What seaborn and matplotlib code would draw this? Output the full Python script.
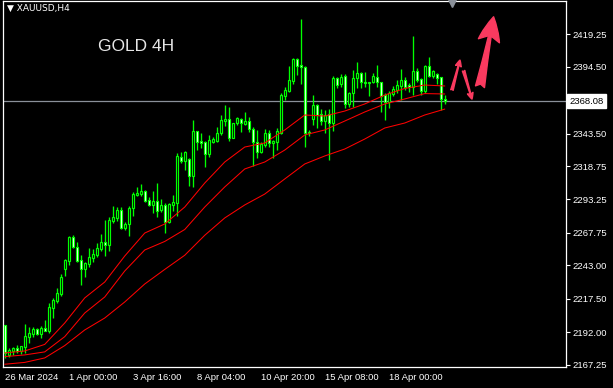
import numpy as np
import pandas as pd
import matplotlib
matplotlib.use("Agg")
import matplotlib.pyplot as plt
import seaborn as sns

# ---------------- data (XAUUSD H4 candles) ----------------
opens = [2197.7, 2174.9, 2178.1, 2180.0, 2177.9, 2181.2, 2188.8, 2190.9, 2194.7, 2190.9,
         2195.2, 2193.4, 2210.9, 2216.2, 2221.3, 2240.1, 2246.7, 2264.5, 2257.3, 2247.0,
         2240.1, 2244.1, 2248.9, 2251.0, 2255.8, 2260.9, 2258.8, 2277.1, 2279.4, 2285.3,
         2271.3, 2274.4, 2286.5, 2296.9, 2297.4, 2299.7, 2292.9, 2289.1, 2292.1, 2285.3,
         2289.1, 2276.3, 2289.1, 2290.8, 2325.8, 2322.8, 2323.9, 2311.4, 2345.2, 2337.8,
         2337.2, 2327.7, 2337.2, 2338.0, 2343.6, 2353.2, 2354.3, 2340.3, 2351.3, 2354.5,
         2350.7, 2353.0, 2346.7, 2336.8, 2329.6, 2334.7, 2343.6, 2336.0, 2337.2, 2344.1,
         2372.3, 2376.1, 2383.5, 2400.0, 2395.6, 2393.9, 2343.6, 2354.3, 2365.2, 2358.3,
         2353.0, 2358.1, 2351.3, 2385.5, 2381.2, 2387.3, 2365.9, 2374.1, 2385.5, 2389.3,
         2382.9, 2381.7, 2382.5, 2386.7, 2382.5, 2372.8, 2367.7, 2373.6, 2376.6, 2379.7,
         2384.2, 2380.4, 2379.1, 2391.1, 2385.0, 2375.8, 2394.9, 2387.5, 2388.6, 2386.3,
         2369.5]
highs = [2197.7, 2180.2, 2181.2, 2182.5, 2181.7, 2198.5, 2196.4, 2196.4, 2195.2, 2197.2,
         2201.5, 2214.2, 2218.0, 2226.1, 2236.3, 2248.2, 2265.5, 2266.0, 2260.7, 2251.0,
         2245.9, 2256.1, 2255.3, 2259.9, 2267.0, 2277.6, 2279.7, 2288.3, 2287.8, 2287.3,
         2276.3, 2288.3, 2298.7, 2302.5, 2305.0, 2300.5, 2294.9, 2299.7, 2305.6, 2293.4,
         2290.4, 2290.4, 2296.4, 2328.4, 2329.6, 2330.2, 2324.6, 2353.8, 2345.2, 2344.1,
         2338.0, 2342.3, 2341.1, 2348.7, 2357.6, 2365.2, 2363.9, 2351.7, 2355.8, 2355.1,
         2359.6, 2355.8, 2348.2, 2346.2, 2336.8, 2346.9, 2346.2, 2338.5, 2347.5, 2374.6,
         2378.7, 2394.9, 2400.7, 2400.7, 2430.7, 2394.9, 2346.2, 2372.8, 2365.9, 2362.1,
         2361.4, 2361.9, 2387.3, 2386.7, 2388.8, 2388.6, 2375.3, 2391.8, 2397.7, 2390.5,
         2390.5, 2382.9, 2389.3, 2395.6, 2382.9, 2374.1, 2375.8, 2379.7, 2384.2, 2392.6,
         2386.7, 2381.7, 2417.7, 2393.1, 2386.0, 2395.6, 2401.5, 2391.8, 2389.8, 2386.7,
         2372.8]
lows = [2172.6, 2173.3, 2174.9, 2176.2, 2175.6, 2176.6, 2184.2, 2188.8, 2190.1, 2187.6,
        2193.4, 2191.4, 2202.8, 2214.2, 2220.0, 2235.2, 2243.4, 2256.1, 2245.7, 2228.2,
        2234.5, 2241.6, 2245.9, 2249.7, 2254.3, 2250.2, 2254.3, 2275.6, 2277.1, 2270.6,
        2270.0, 2265.7, 2280.7, 2295.9, 2295.9, 2291.3, 2288.3, 2282.7, 2280.2, 2284.0,
        2268.0, 2275.1, 2284.7, 2280.7, 2320.8, 2315.7, 2303.5, 2303.0, 2330.9, 2332.2,
        2318.2, 2325.8, 2336.0, 2337.2, 2342.3, 2349.2, 2338.0, 2339.8, 2350.0, 2344.9,
        2350.0, 2344.9, 2318.7, 2324.6, 2328.4, 2333.4, 2333.4, 2324.6, 2330.9, 2343.1,
        2369.0, 2375.3, 2381.2, 2388.0, 2381.2, 2333.4, 2341.6, 2350.0, 2347.5, 2350.0,
        2344.1, 2323.3, 2345.6, 2377.9, 2379.1, 2362.7, 2363.4, 2363.4, 2377.9, 2377.9,
        2379.1, 2372.0, 2381.7, 2378.7, 2360.1, 2353.8, 2362.7, 2372.0, 2374.1, 2369.0,
        2376.6, 2375.3, 2372.8, 2382.9, 2372.8, 2374.1, 2386.7, 2385.5, 2381.2, 2361.4,
        2365.9]
closes = [2176.4, 2178.7, 2180.0, 2178.1, 2181.7, 2189.3, 2191.8, 2194.7, 2190.9, 2195.6,
          2193.4, 2211.6, 2216.7, 2221.8, 2234.0, 2247.2, 2264.5, 2257.3, 2246.4, 2240.1,
          2244.7, 2249.2, 2251.8, 2256.1, 2260.9, 2258.8, 2277.6, 2280.2, 2285.3, 2271.3,
          2274.6, 2286.5, 2297.2, 2298.0, 2299.7, 2292.3, 2289.1, 2292.1, 2284.7, 2289.1,
          2276.3, 2289.6, 2291.3, 2326.4, 2322.8, 2329.6, 2311.4, 2345.2, 2337.2, 2336.5,
          2327.7, 2338.5, 2339.1, 2344.1, 2353.8, 2354.3, 2339.8, 2351.3, 2355.1, 2351.3,
          2353.0, 2346.7, 2336.8, 2329.6, 2335.3, 2343.6, 2336.0, 2337.8, 2345.4, 2372.8,
          2376.6, 2384.2, 2400.0, 2395.1, 2393.9, 2343.6, 2344.6, 2365.2, 2357.6, 2353.0,
          2357.6, 2351.3, 2385.5, 2380.4, 2386.7, 2365.9, 2374.6, 2385.5, 2389.3, 2382.5,
          2381.7, 2382.9, 2387.3, 2382.5, 2372.3, 2367.7, 2374.1, 2377.1, 2380.4, 2384.2,
          2379.1, 2378.7, 2391.1, 2384.2, 2375.8, 2394.9, 2387.5, 2391.1, 2386.0, 2369.5,
          2368.08]

# moving averages (read at every 5th bar)
ma_bars = [0, 5, 10, 15, 20, 25, 30, 35, 40, 45, 50, 55, 60, 65, 70, 75, 80, 85, 90, 95, 100, 105, 110]
ma_fast = [2176.4, 2177.9, 2182.9, 2199.2, 2218.3, 2230.4, 2250.2, 2267.7, 2274.6, 2287.5, 2305.8, 2321.8,
           2333.2, 2336.3, 2346.2, 2357.6, 2356.8, 2360.6, 2366.0, 2372.8, 2377.8, 2380.4, 2379.7]
ma_mid = [2173.6, 2174.9, 2177.2, 2188.8, 2206.8, 2219.0, 2238.8, 2254.8, 2261.3, 2270.4, 2287.5, 2302.8,
          2316.5, 2321.8, 2330.9, 2342.4, 2346.2, 2353.0, 2359.9, 2366.0, 2369.8, 2373.9, 2373.6]
ma_slow = [2167.8, 2169.2, 2172.6, 2182.0, 2193.9, 2203.0, 2215.2, 2228.9, 2240.0, 2250.8, 2266.0, 2279.2,
           2289.1, 2297.4, 2308.9, 2320.3, 2326.4, 2331.7, 2339.3, 2347.7, 2351.5, 2357.6, 2362.1]

x_tick_bars = [0, 16, 32, 48, 64, 80, 96]
x_tick_labels = ["26 Mar 2024", "1 Apr 00:00", "3 Apr 16:00", "8 Apr 04:00",
                 "10 Apr 20:00", "15 Apr 08:00", "18 Apr 00:00"]
y_ticks = [2167.25, 2192.00, 2217.50, 2243.00, 2267.75, 2293.25, 2318.75, 2343.50, 2394.50, 2419.25]
y_tick_labels = ["2167.25", "2192.00", "2217.50", "2243.00", "2267.75", "2293.25",
                 "2318.75", "2343.50", "2394.50", "2419.25"]
last_price = 2368.08
symbol_label = "XAUUSD,H4"
chart_title = "GOLD 4H"

# ---------------- style ----------------
sns.set_style("dark", {"axes.facecolor": "black", "figure.facecolor": "black"})
plt.rcParams["font.family"] = ["Liberation Sans", "DejaVu Sans"]

GREEN = "#00ff00"
RED = "#ff0000"
ARROW = "#fa3a5f"

fig = plt.figure(figsize=(6.13, 3.88), dpi=100, facecolor="black")
ax = fig.add_axes([3 / 613, 21 / 388, 563 / 613, 366 / 388])
ax.set_facecolor("black")

df = pd.DataFrame({"bar": np.arange(len(opens)), "open": opens, "high": highs,
                   "low": lows, "close": closes})

# wicks
ax.vlines(df["bar"], df["low"], df["high"], color=GREEN, lw=0.95, zorder=2)
# bodies
px = (2444.4 - 2165.7) / 366.0
body_bottom = np.minimum(df["open"], df["close"])
body_h = np.maximum(np.abs(df["close"] - df["open"]), px * 0.8)
fills = np.where(df["close"] < df["open"], "white", "black")
ax.bar(df["bar"], body_h, bottom=body_bottom, width=0.5, color=fills,
       edgecolor=GREEN, linewidth=0.85, zorder=3)

# moving averages via seaborn
ma_df = pd.concat([
    pd.DataFrame({"bar": ma_bars, "value": ma_fast, "ma": "fast"}),
    pd.DataFrame({"bar": ma_bars, "value": ma_mid, "ma": "mid"}),
    pd.DataFrame({"bar": ma_bars, "value": ma_slow, "ma": "slow"}),
])
sns.lineplot(data=ma_df, x="bar", y="value", hue="ma", palette=[RED, RED, RED],
             legend=False, lw=0.75, ax=ax, zorder=4)

# bid line
ax.axhline(last_price, color="#8a9099", lw=0.9, zorder=1)

ax.set_xlim(-0.425, 140.3)
ax.set_ylim(2165.7, 2444.4)

# axes / spines
for s in ["left", "right", "top", "bottom"]:
    ax.spines[s].set_visible(True)
    ax.spines[s].set_color("white")
    ax.spines[s].set_linewidth(0.9)

ax.yaxis.tick_right()
ax.set_yticks(y_ticks)
ax.set_yticklabels(y_tick_labels)
ax.set_xticks(x_tick_bars)
ax.set_xticklabels(x_tick_labels, ha="left")
ax.tick_params(axis="y", colors="white", length=3, width=0.8, pad=1.5, labelsize=6.8,
               direction="out", left=False, right=True)
ax.tick_params(axis="x", colors="white", length=3, width=0.8, pad=1.5, labelsize=6.8,
               direction="out")
ax.set_xlabel("")
ax.set_ylabel("")
ax.grid(False)

# current price box
ax.annotate("2368.08", xy=(1.0, last_price), xycoords=("axes fraction", "data"),
            xytext=(2.5, 0), textcoords="offset points", ha="left", va="center",
            fontsize=6.8, color="black",
            bbox=dict(boxstyle="square,pad=0.25", fc="white", ec="white"),
            annotation_clip=False)

# texts
ax.text(0.007, 0.981, "\u25bc " + symbol_label, transform=ax.transAxes, color="white",
        fontsize=6.5, ha="left", va="center", family=["DejaVu Sans"])
ax.text(0.169, 0.877, chart_title, transform=ax.transAxes, color="#e6e6e6",
        fontsize=12.5, ha="left", va="center")

# shift marker at top
ax.plot([111.8], [1.0], marker="v", color="#8a9099", markersize=8,
        transform=ax.get_xaxis_transform(), clip_on=False, zorder=6)

# hand-drawn arrows
ax.annotate("", xy=(113.8, 2399.4), xytext=(111.8, 2376.6),
            arrowprops=dict(arrowstyle="fancy,head_length=0.5,head_width=0.45,tail_width=0.2",
                            color=ARROW, mutation_scale=9, shrinkA=0, shrinkB=0), zorder=7)
ax.annotate("", xy=(116.8, 2369.7), xytext=(114.7, 2391.3),
            arrowprops=dict(arrowstyle="fancy,head_length=0.5,head_width=0.45,tail_width=0.2",
                            color=ARROW, mutation_scale=9, shrinkA=0, shrinkB=0), zorder=7)
ax.annotate("", xy=(122.2, 2432.4), xytext=(118.8, 2379.1),
            arrowprops=dict(arrowstyle="fancy,head_length=0.8,head_width=0.7,tail_width=0.3",
                            color=ARROW, mutation_scale=22, shrinkA=0, shrinkB=0), zorder=7)

fig.savefig("out.png", dpi=100, facecolor="black")
